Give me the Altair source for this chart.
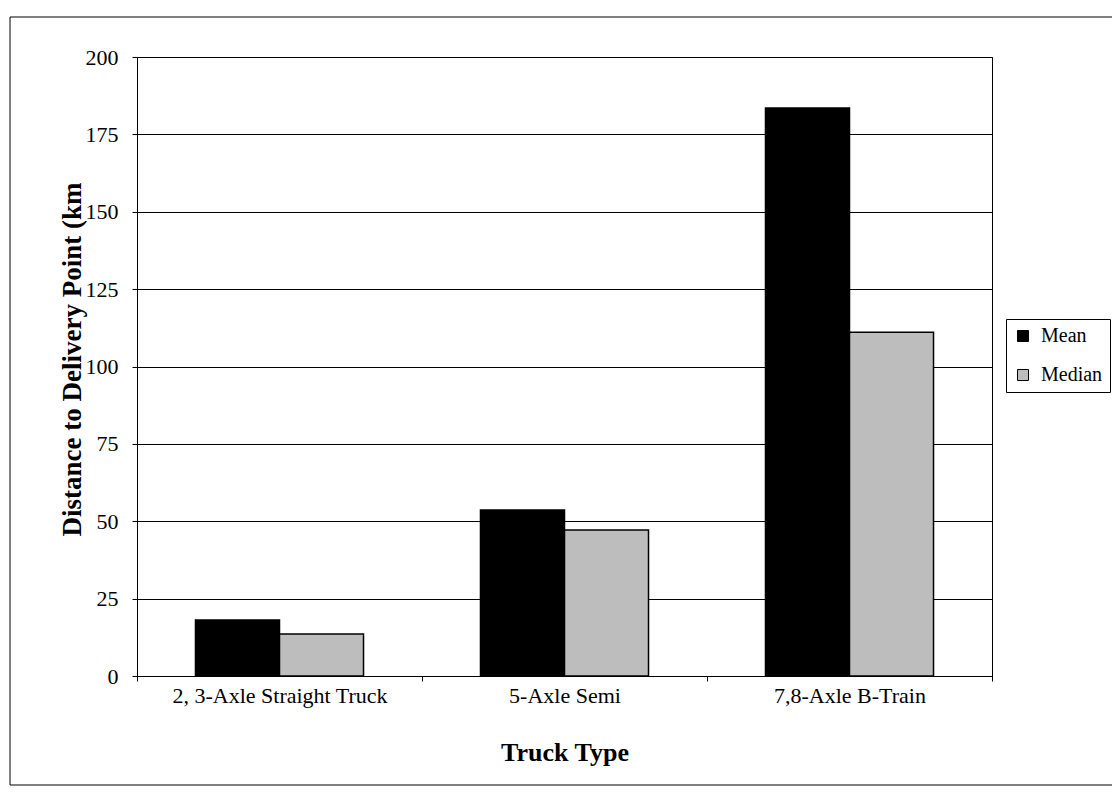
import altair as alt
import pandas as pd

categories = ["2, 3-Axle Straight Truck", "5-Axle Semi", "7,8-Axle B-Train"]
series = ["Mean", "Median"]
mean_values = [18.1, 53.6, 183.5]
median_values = [13.6, 47.2, 111.1]
y_ticks = [0, 25, 50, 75, 100, 125, 150, 175, 200]

rows = []
for c, m, md in zip(categories, mean_values, median_values):
    rows.append({"truck": c, "stat": "Mean", "value": m})
    rows.append({"truck": c, "stat": "Median", "value": md})
df = pd.DataFrame(rows)

W, H = 855, 619
FONT = "Liberation Serif"

bars = alt.Chart(df).mark_bar(stroke="black", strokeWidth=1.5).encode(
    x=alt.X(
        "truck:N",
        sort=categories,
        scale=alt.Scale(paddingInner=0, paddingOuter=0),
        axis=alt.Axis(
            title="Truck Type",
            labelAngle=0,
            labelLimit=0,
            tickBand="extent",
            tickSize=5,
            labelPadding=4,
            labelFontSize=22,
            titleFontSize=26,
            titleY=84,
            titleBaseline="alphabetic",
            grid=False,
        ),
    ),
    xOffset=alt.XOffset(
        "stat:N", sort=series, scale=alt.Scale(paddingInner=0, paddingOuter=0.696)
    ),
    y=alt.Y(
        "value:Q",
        scale=alt.Scale(domain=[0, 200], nice=False),
        axis=alt.Axis(
            title="Distance to Delivery Point (km",
            values=y_ticks,
            grid=True,
            tickSize=5,
            labelPadding=14,
            labelFontSize=22,
            titleFontSize=27,
            titleAngle=270,
            titleX=-57,
            titleY=302,
            titleAlign="center",
            titleBaseline="alphabetic",
        ),
    ),
    color=alt.Color(
        "stat:N",
        sort=series,
        scale=alt.Scale(domain=series, range=["#000000", "#bdbdbd"]),
        legend=alt.Legend(
            title=None,
            orient="none",
            legendX=869,
            legendY=262,
            strokeColor="black",
            fillColor="white",
            padding=7,
            labelFont=FONT,
            labelFontSize=20,
            labelColor="black",
            symbolType="square",
            symbolSize=121,
            symbolStrokeColor="black",
            symbolStrokeWidth=1,
            rowPadding=19,
            labelOffset=8,
        ),
    ),
)

frame = alt.Chart(pd.DataFrame({"k": [0]})).mark_rect(
    fillOpacity=0, stroke="black", strokeWidth=1
).encode(
    x=alt.value(-127), x2=alt.value(1000), y=alt.value(-40), y2=alt.value(728)
)

chart = (
    alt.layer(frame, bars)
    .properties(
        width=W,
        height=H,
        autosize=alt.AutoSizeParams(type="none"),
        padding={"left": 129, "top": 49, "right": 120, "bottom": 111},
        background="white",
    )
    .configure_view(stroke="black", strokeWidth=1)
    .configure_axis(
        domainColor="black",
        tickColor="black",
        gridColor="black",
        gridWidth=1,
        labelFont=FONT,
        labelColor="black",
        titleFont=FONT,
        titleColor="black",
        titleFontWeight="bold",
    )
)

chart.save("out.html", embed_options={"renderer": "svg", "actions": False})
